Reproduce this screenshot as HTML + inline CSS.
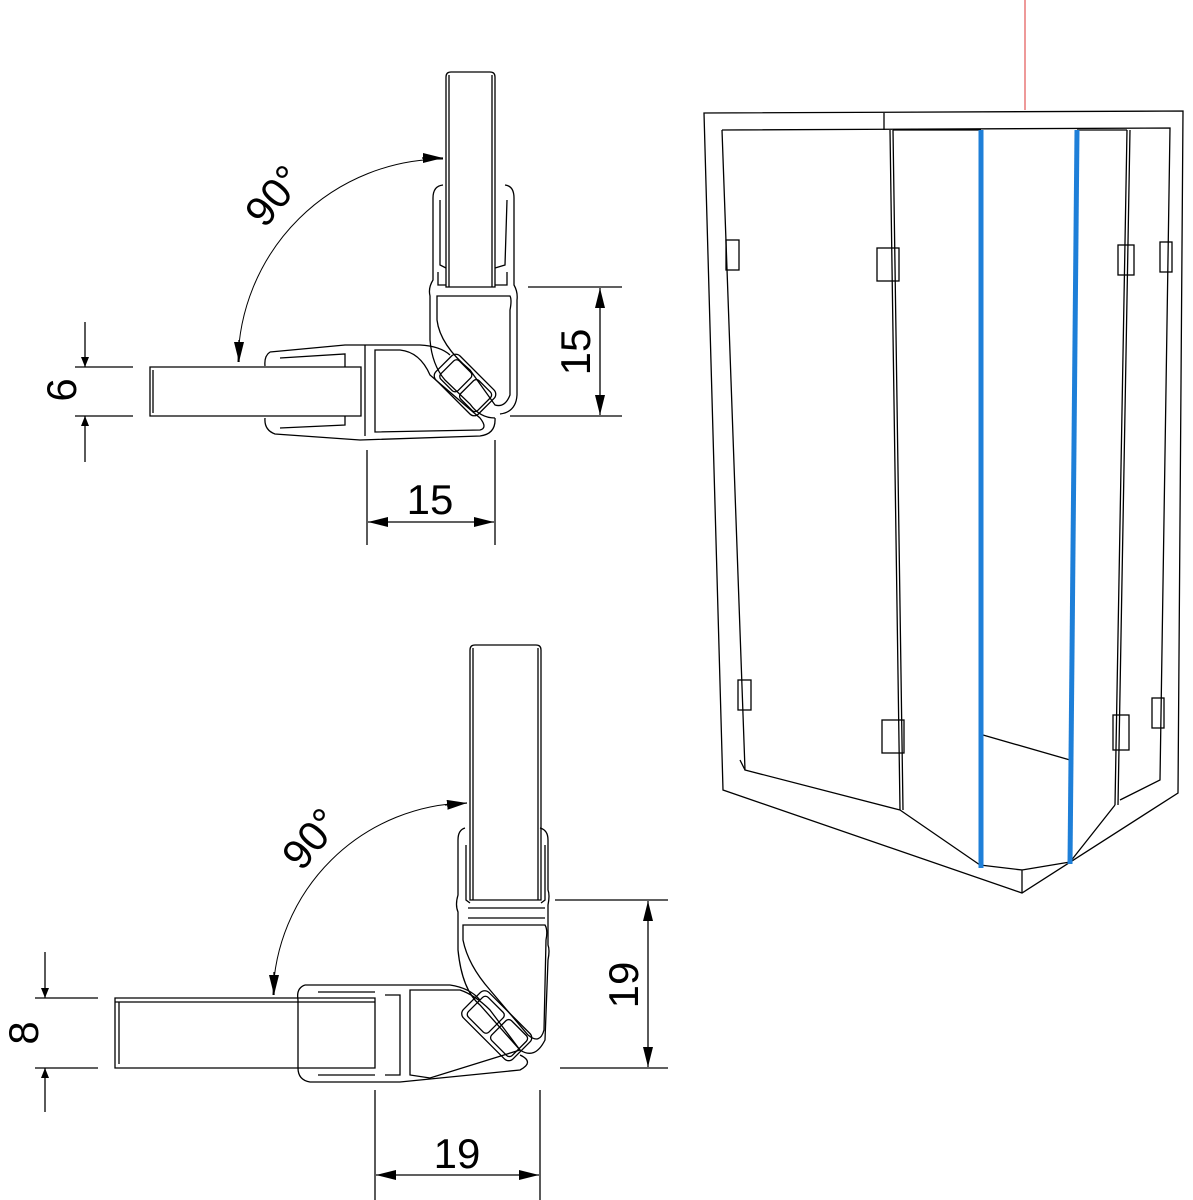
<!DOCTYPE html>
<html><head><meta charset="utf-8"><style>
html,body{margin:0;padding:0;background:#fff;}
svg{display:block;}
text{font-family:"Liberation Sans",sans-serif;fill:#000;}
</style></head><body>
<svg width="1193" height="1200" viewBox="0 0 1193 1200" xmlns="http://www.w3.org/2000/svg">
<defs>
<marker id="ar" markerWidth="10" markerHeight="8" refX="10" refY="4" orient="auto" markerUnits="userSpaceOnUse"><path d="M0,0 L10,4 L0,8 Z" fill="#000"/></marker>
<marker id="ar2" markerWidth="20" markerHeight="10" refX="20" refY="5" orient="auto" markerUnits="userSpaceOnUse"><path d="M0,0 L20,5 L0,10 Z" fill="#000"/></marker>
</defs>
<g fill="none" stroke="#000" stroke-width="1.3">
<path d="M446,77 Q446,72 451,72 L490,72 Q495,72 495,77 L495,287 L446,287 Z"/>
<line x1="449" y1="75" x2="449" y2="287"/><line x1="492" y1="75" x2="492" y2="287"/>
<path d="M150,367 L361,367 L361,416 L150,416 Z"/>
<line x1="153" y1="370" x2="153" y2="413"/>
<path d="M443,185 Q433,186 433,198 L433,280 Q428,288 430,296 L430,340 Q432,365 445,380 L470,404 Q480,418 495,418 M505,185 Q514,186 514,198 L514,285 Q518,292 517,300 L517,395 Q516,412 500,414"/>
<path d="M440,200 L440,265 L446,268 M438,272 L438,285 L446,285 M507,200 L505,265 L495,268 M507,272 L507,285 L495,285"/>
<path d="M437,296 L510,296 Q512,300 510,310 L510,395 Q505,408 495,405 L470,370 Q440,345 437,320 Z"/>
<path d="M270,352 Q264,356 265,366 M265,418 Q264,430 275,434 L360,440 L480,436 Q496,434 495,418 M270,352 L345,345 L420,345 Q440,346 450,355"/>
<path d="M280,358 L345,354 L345,367 M280,428 L345,425 L345,416 M375,350 L375,432 L480,430 Q488,428 480,418 L430,375 Q420,352 400,350 Z"/>
<line x1="365" y1="345" x2="365" y2="436"/>
<g transform="rotate(45 465 385)">
<rect x="435" y="368" width="60" height="34" rx="6"/><rect x="440" y="372" width="24" height="26" rx="4"/><rect x="468" y="372" width="24" height="26" rx="4"/>
</g>
<line x1="75" y1="367" x2="133" y2="367"/><line x1="75" y1="416" x2="133" y2="416"/>
<line x1="85" y1="322" x2="85" y2="367" marker-end="url(#ar)"/>
<line x1="85" y1="462" x2="85" y2="416" marker-end="url(#ar)"/>
<line x1="528" y1="287" x2="622" y2="287"/><line x1="510" y1="416" x2="622" y2="416"/>
<line x1="600" y1="352" x2="600" y2="288" marker-end="url(#ar2)"/>
<line x1="600" y1="352" x2="600" y2="415" marker-end="url(#ar2)"/>
<line x1="367" y1="450" x2="367" y2="545"/><line x1="495" y1="440" x2="495" y2="545"/>
<line x1="430" y1="522" x2="368" y2="522" marker-end="url(#ar2)"/>
<line x1="430" y1="522" x2="494" y2="522" marker-end="url(#ar2)"/>
<path d="M238,362 A206,206 0 0 1 443,159" stroke-width="1"/>
<line x1="422" y1="158" x2="443" y2="158" marker-end="url(#ar2)"/>
<line x1="239" y1="340" x2="239" y2="362" marker-end="url(#ar2)"/>

<path d="M470,650 Q470,645 475,645 L536,645 Q541,645 541,650 L541,900 L470,900 Z"/>
<line x1="473" y1="648" x2="473" y2="900"/><line x1="538" y1="648" x2="538" y2="900"/>
<path d="M115,998 L375,998 L375,1068 L115,1068 Z"/>
<line x1="119" y1="1002" x2="119" y2="1064"/><line x1="115" y1="1002" x2="375" y2="1002"/>
<path d="M465,828 Q458,830 458,840 L458,895 Q455,905 458,912 L458,950 Q462,990 480,1005 L520,1050 Q535,1060 545,1040 L548,960 Q550,950 548,945 L548,905 Q550,895 548,890 L548,840 Q548,830 540,828"/>
<path d="M466,845 L466,900 L470,903 M545,845 L545,900 L541,903 M468,908 L545,908 M468,918 L545,918"/>
<path d="M463,925 L545,925 Q548,930 546,940 L544,1030 Q540,1045 528,1035 L490,990 Q468,965 463,940 Z"/>
<path d="M305,985 Q296,988 298,1000 L298,1068 Q298,1080 310,1082 L400,1082 L520,1070 Q535,1062 520,1055 M305,985 L400,985 L450,985 Q470,988 480,1000"/>
<path d="M318,992 L375,992 M318,1075 L375,1075 M385,995 L400,995 L400,1075 L385,1075 M410,990 L460,990 Q475,995 490,1010 L520,1050 L430,1078 L410,1075 Z"/>
<g transform="rotate(45 496 1025)">
<rect x="462" y="1007" width="70" height="36" rx="6"/><rect x="467" y="1011" width="29" height="28" rx="4"/><rect x="500" y="1011" width="29" height="28" rx="4"/>
</g>
<line x1="35" y1="998" x2="98" y2="998"/><line x1="35" y1="1068" x2="98" y2="1068"/>
<line x1="45" y1="952" x2="45" y2="998" marker-end="url(#ar)"/>
<line x1="45" y1="1112" x2="45" y2="1068" marker-end="url(#ar)"/>
<line x1="555" y1="900" x2="668" y2="900"/><line x1="560" y1="1068" x2="668" y2="1068"/>
<line x1="648" y1="985" x2="648" y2="901" marker-end="url(#ar2)"/>
<line x1="648" y1="985" x2="648" y2="1067" marker-end="url(#ar2)"/>
<line x1="375" y1="1090" x2="375" y2="1200"/><line x1="540" y1="1090" x2="540" y2="1200"/>
<line x1="457" y1="1175" x2="376" y2="1175" marker-end="url(#ar2)"/>
<line x1="457" y1="1175" x2="539" y2="1175" marker-end="url(#ar2)"/>
<path d="M273,995 A197,197 0 0 1 467,803" stroke-width="1"/>
<line x1="445" y1="805" x2="467" y2="803" marker-end="url(#ar2)"/>
<line x1="274" y1="972" x2="274" y2="995" marker-end="url(#ar2)"/>

<line x1="1025" y1="0" x2="1025" y2="110" stroke="#d33" stroke-width="1"/>
<path d="M704,113 L1183,111 L1178,793 L1022,893 L723,790 Z"/>
<path d="M722,130 L1170,128 L1160,780 L1120,800 M722,130 L745,770 L900,810"/>
<path d="M740,760 L745,770 M1022,893 L1022,870 L980,865 M1022,870 L1070,862 M900,810 L980,865 M1115,805 L1070,862"/>
<path d="M884,113 L884,130"/>
<path d="M890,130 L900,810 M893,130 L903,810" />
<path d="M893,130 L981,130 M1077,130 L1127,130"/>
<path d="M1127,130 L1115,805 M1130,130 L1118,805"/>
<path d="M983,735 L1070,760"/>
<rect x="726" y="240" width="13" height="30"/><rect x="877" y="248" width="22" height="33"/>
<rect x="738" y="680" width="13" height="30"/><rect x="882" y="720" width="22" height="33"/>
<rect x="1118" y="245" width="16" height="30"/><rect x="1160" y="242" width="12" height="30"/>
<rect x="1113" y="715" width="16" height="35"/><rect x="1152" y="698" width="12" height="30"/>
</g>
<line x1="981" y1="130" x2="981" y2="868" stroke="#1e7fd8" stroke-width="5"/>
<line x1="1077" y1="130" x2="1070" y2="864" stroke="#1e7fd8" stroke-width="5"/>

<text x="0" y="0" font-size="42" transform="translate(76,390) rotate(-90)" text-anchor="middle">6</text>
<text x="0" y="0" font-size="42" transform="translate(590,352) rotate(-90)" text-anchor="middle">15</text>
<text x="430" y="514" font-size="42" text-anchor="middle">15</text>
<text x="0" y="0" font-size="42" transform="translate(285,205) rotate(-50)" text-anchor="middle">90°</text>
<text x="0" y="0" font-size="42" transform="translate(38,1033) rotate(-90)" text-anchor="middle">8</text>
<text x="0" y="0" font-size="42" transform="translate(638,985) rotate(-90)" text-anchor="middle">19</text>
<text x="457" y="1168" font-size="42" text-anchor="middle">19</text>
<text x="0" y="0" font-size="42" transform="translate(322,848) rotate(-50)" text-anchor="middle">90°</text>
</svg>
</body></html>
